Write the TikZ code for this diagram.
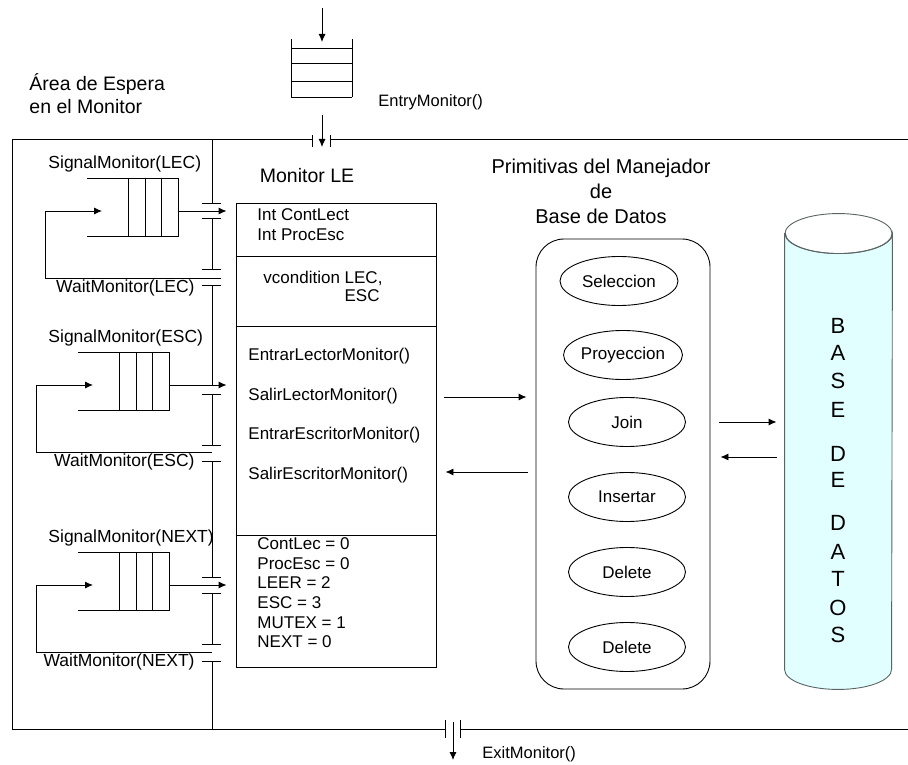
\documentclass[tikz,border=0pt]{standalone}
\usepackage{fontspec}
\setmainfont{Liberation Sans}
\usetikzlibrary{shapes.geometric,arrows.meta}
\definecolor{dbfill}{RGB}{226,255,255}
\definecolor{dbline}{RGB}{90,100,100}

\begin{document}
\begin{tikzpicture}[x=1pt,y=-1pt,line width=0.9pt,>={Latex[length=8pt,width=7pt]},
    txt/.style={inner sep=0pt,text height=.72em,text depth=0pt,font=\fontsize{17}{20}\selectfont},
    lab/.style={txt,font=\fontsize{17.5}{20}\selectfont},
    gate/.style={txt,font=\fontsize{16.5}{20}\selectfont},
    big/.style={inner sep=0pt,align=center,font=\fontsize{19.5}{23}\selectfont},
    op/.style={draw,ellipse,inner sep=0pt,minimum height=49pt,font=\fontsize{17}{20}\selectfont}]
    \useasboundingbox (0,0) rectangle (908,765);

    % frame of the monitor, entry and exit
    \draw (312,139) -- (12,139) -- (12,729) -- (445,729);
    \draw (330,139) -- (908,139);
    \draw (460,729) -- (908,729);
    \draw (312,135) -- (312,147) (330,135) -- (330,147);
    \draw (445,720) -- (445,738) (460,720) -- (460,738);
    \draw (291,39) -- (291,97) (352,39) -- (352,97);
    \foreach \y in {48,63,81,97} \draw (291,\y) -- (352,\y);
    \coordinate (in) at (322,8);
    \coordinate (entq) at (322,42);
    \coordinate (entgate) at (322,115);
    \coordinate (exgate) at (453,722);
    \draw[->] (in) -- (entq);
    \draw[->] (entgate) -- (322,147);
    \draw[->] (exgate) -- (453,760);
    \node[gate,anchor=west] (entry) at (378,103) {EntryMonitor()};
    \node[gate,anchor=west] (exit) at (482,755) {ExitMonitor()};
    \node[big,align=left,anchor=west] (area) at (29,93.5) {Área de Espera\\en el Monitor};

    % waiting line with its gates
    \draw (212,139) -- (212,203) (212,218) -- (212,269) (212,285) -- (212,385)
          (212,394) -- (212,445) (212,461) -- (212,577) (212,593) -- (212,644)
          (212,661) -- (212,729);
    \foreach \t in {203,218,269,285,394,445,461,577,593,644,661}
        \draw (202,\t) -- (221,\t);

    % monitor LE
    \node[draw,minimum width=200pt,minimum height=464pt,inner sep=0pt] (mon) at (336,435) {};
    \foreach \y in {256,326,535} \draw (mon.west |- 0,\y) -- (mon.east |- 0,\y);
    \node[big] (monlbl) at (307,176) {Monitor LE};
    \node[txt,anchor=west] at (257,217) {Int ContLect};
    \node[txt,anchor=west] at (257,237) {Int ProcEsc};
    \node[txt,anchor=west] at (263,280) {vcondition LEC,};
    \node[txt,anchor=east] at (380,298) {ESC};
    \foreach \t/\y in {EntrarLectorMonitor()/357,SalirLectorMonitor()/397,
                       EntrarEscritorMonitor()/436,SalirEscritorMonitor()/476}
        \node[txt,anchor=west] at (248,\y) {\t};
    \foreach \t [count=\i from 0] in {ContLec = 0,ProcEsc = 0,LEER = 2,ESC = 3,MUTEX = 1,NEXT = 0}
        \node[txt,anchor=west] at (257,546+19.6*\i) {\t};

    % condition queues
    \foreach \x/\y/\q/\e in {87/178/LEC/221,78/352/ESC/212,78/552/NEXT/212} {
        \draw (\x,\y) -- ++(91,0) -- ++(0,58) -- ++(-91,0);
        \foreach \c in {41,58,74} \draw (\x+\c,\y) -- ++(0,58);
        \draw[->,shorten >=9pt] (\x+91,\y+33) -- (mon.west |- 0,\y+33);
        \draw[->] (\e,\y+100) -- (\x-42,\y+100) -- (\x-42,\y+33) -- (\x+15,\y+33);
        \node[lab,anchor=west] at (48,\y-13) {SignalMonitor(\q)};
        \node[lab,anchor=east] at (195,\y+111) {WaitMonitor(\q)};
    }

    % primitives
    \node[big,font=\fontsize{20}{25}\selectfont] (primlbl) at (601,191)
        {Primitivas del Manejador\\de\\Base de Datos};
    \node[draw,rounded corners=28pt,minimum width=174pt,minimum height=450pt] (prim) at (623,464) {};
    \foreach \n/\t/\x/\y/\w in {sel/Seleccion/619/281/118,proy/Proyeccion/623/355/109,
                                join/Join/627/422/117,ins/Insertar/627/497/117,
                                del/Delete/627/572/117,dele/Delete/627/647/117}
        \node[op,minimum width=\w pt] (\n) at (\x,\y) {\t};

    % data base
    \node[minimum width=107pt,minimum height=435pt,inner sep=0pt] (db) at (838.5,451.5) {};
    \filldraw[fill=dbfill,draw=dbline] (db.north west) -- (db.south west)
        arc[start angle=180,end angle=0,x radius=53.5,y radius=20] -- (db.north east)
        arc[start angle=0,end angle=180,x radius=53.5,y radius=20] -- cycle;
    \draw[dbline] (db.north) ellipse[x radius=53.5,y radius=20];
    \foreach \l/\y in {B/326,A/353,S/381,E/410,D/454,E/480,D/523,A/552,T/579,O/608,S/635}
        \node[inner sep=0pt,font=\fontsize{22}{24}\selectfont] at (838,\y) {\l};

    \draw[->,shorten <=8pt,shorten >=9pt] (mon.east |- 0,397) -- (prim.west |- 0,397);
    \draw[<-,shorten <=9pt,shorten >=8pt] (mon.east |- 0,472) -- (prim.west |- 0,472);
    \draw[->,shorten <=9pt,shorten >=8pt] (prim.east |- 0,422) -- (db.west |- 0,422);
    \draw[<-,shorten <=10pt,shorten >=8pt] (prim.east |- 0,457) -- (db.west |- 0,457);
\end{tikzpicture}
\end{document}
